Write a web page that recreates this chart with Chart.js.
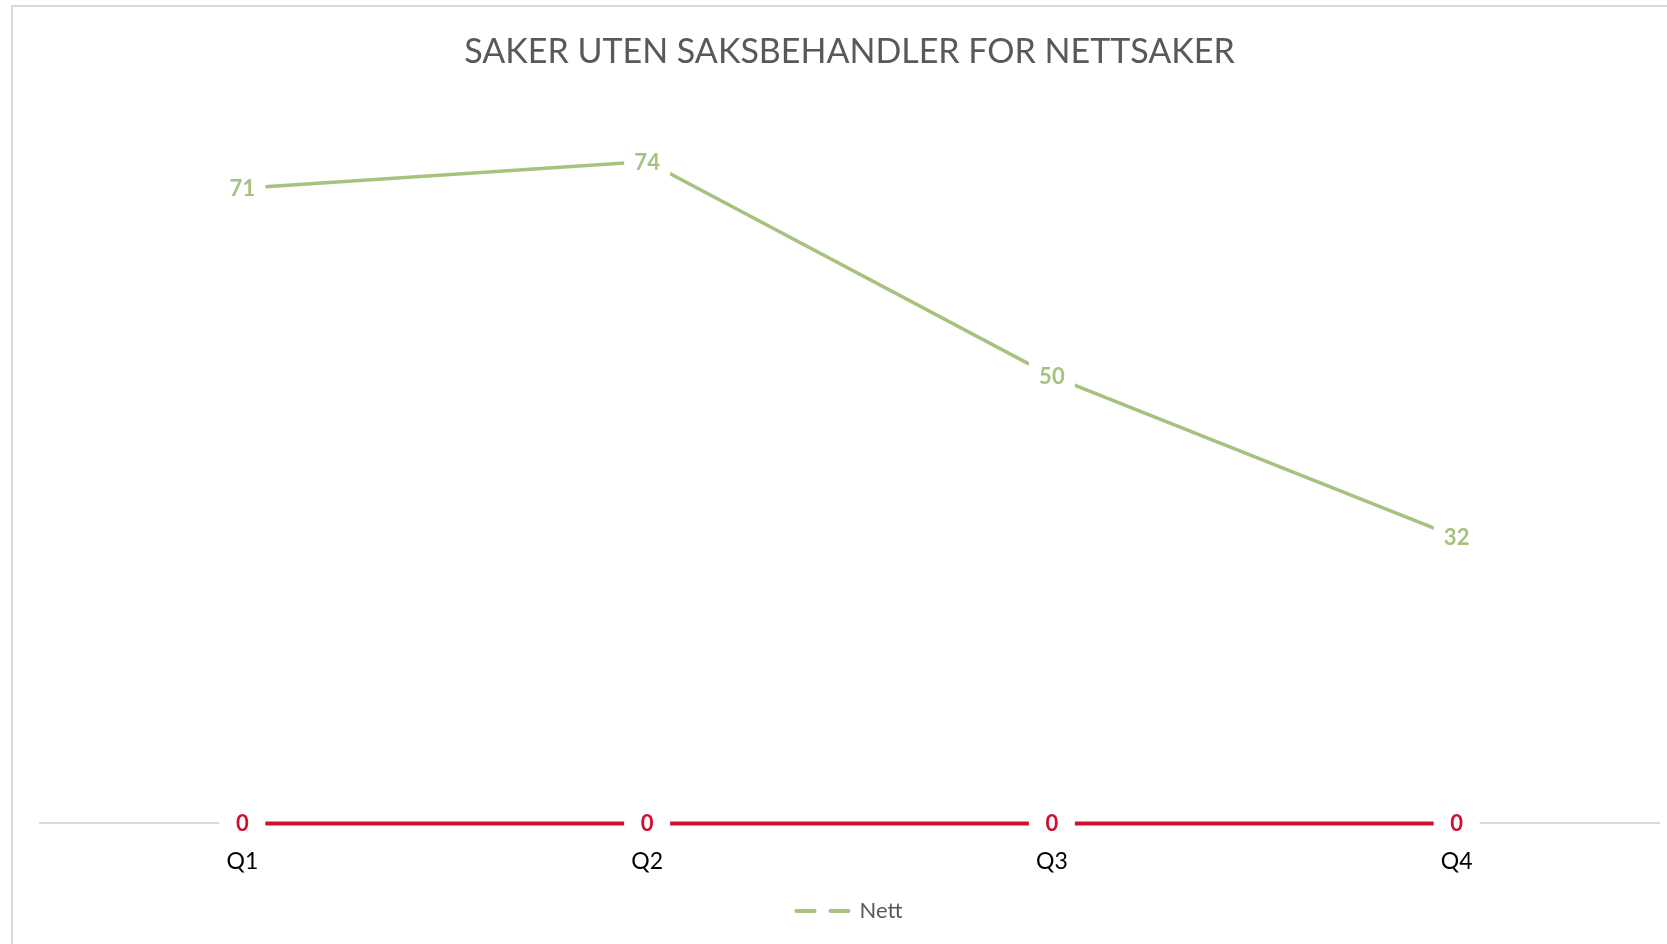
<!DOCTYPE html>
<html>
<head>
<meta charset="utf-8">
<script src="https://cdn.jsdelivr.net/npm/chart.js@4"></script>
<style>
    html, body { margin: 0; padding: 0; background: #fff; overflow: hidden; }
    #frame { position: absolute; left: 11px; top: 5px; width: 1700px; height: 1000px; border: 2px solid #d9d9d9; box-sizing: border-box; }
    #wrap { position: absolute; left: 0; top: 0; width: 1667px; height: 944px; }
</style>
</head>
<body>
<div id="frame"></div>
<div id="wrap"><canvas id="nettChart"></canvas></div>
<script>
const quarters = ['Q1', 'Q2', 'Q3', 'Q4'];
const nettValues = [71, 74, 50, 32];
const annetValues = [0, 0, 0, 0];

const green = '#a6c27c';
const red = '#d0102f';

// Excel-style value labels: white box centred on the point, covering the line
const pointLabels = {
    id: 'pointLabels',
    afterDatasetsDraw(chart) {
        const ctx = chart.ctx;
        ctx.save();
        ctx.font = 'bold 22px Lato';
        ctx.textAlign = 'center';
        ctx.textBaseline = 'middle';
        chart.data.datasets.forEach((ds, i) => {
            chart.getDatasetMeta(i).data.forEach((pt, j) => {
                ctx.fillStyle = '#fff';
                ctx.fillRect(pt.x - 23, pt.y - 14, 46, 28);
                ctx.fillStyle = ds.borderColor;
                ctx.fillText(String(ds.data[j]), pt.x, pt.y + 1);
            });
        });
        ctx.restore();
    }
};

document.addEventListener('DOMContentLoaded', function() {
    const ctx = document.getElementById('nettChart').getContext('2d');
    new Chart(ctx, {
        type: 'line',
        data: {
            labels: quarters,
            datasets: [{
                label: 'Annet',
                data: annetValues,
                borderColor: red,
                backgroundColor: red,
                borderWidth: 4,
                pointRadius: 0,
                tension: 0,
                clip: false
            }, {
                label: 'Nett',
                data: nettValues,
                borderColor: green,
                backgroundColor: green,
                borderWidth: 3.5,
                pointRadius: 0,
                tension: 0,
                clip: false
            }]
        },
        options: {
            responsive: true,
            maintainAspectRatio: false,
            animation: false,
            layout: { padding: { left: 40, right: 8, top: 0, bottom: 12 } },
            scales: {
                x: {
                    offset: true,
                    grid: { display: false, drawTicks: false },
                    border: { display: true, color: '#d9d9d9', width: 2 },
                    ticks: { color: '#000', font: { family: 'Lato', size: 23 }, padding: 24 }
                },
                y: { display: false, min: 0, max: 80 }
            },
            plugins: {
                title: {
                    display: true,
                    text: 'SAKER UTEN SAKSBEHANDLER FOR NETTSAKER',
                    color: '#595959',
                    font: { family: 'Lato', size: 34, weight: 'normal' },
                    padding: { top: 32, bottom: 35 }
                },
                legend: {
                    position: 'bottom',
                    labels: {
                        usePointStyle: true,
                        pointStyleWidth: 52,
                        color: '#595959',
                        font: { family: 'Lato', size: 22 },
                        padding: 1,
                        generateLabels: () => [{
                            text: 'Nett',
                            fontColor: '#595959',
                            fillStyle: green,
                            strokeStyle: green,
                            lineWidth: 4,
                            lineDash: [18, 16],
                            lineCap: 'round',
                            pointStyle: 'line',
                            datasetIndex: 1,
                            hidden: false
                        }]
                    }
                },
                tooltip: { enabled: false }
            }
        },
        plugins: [pointLabels]
    });
});
</script>
</body>
</html>
